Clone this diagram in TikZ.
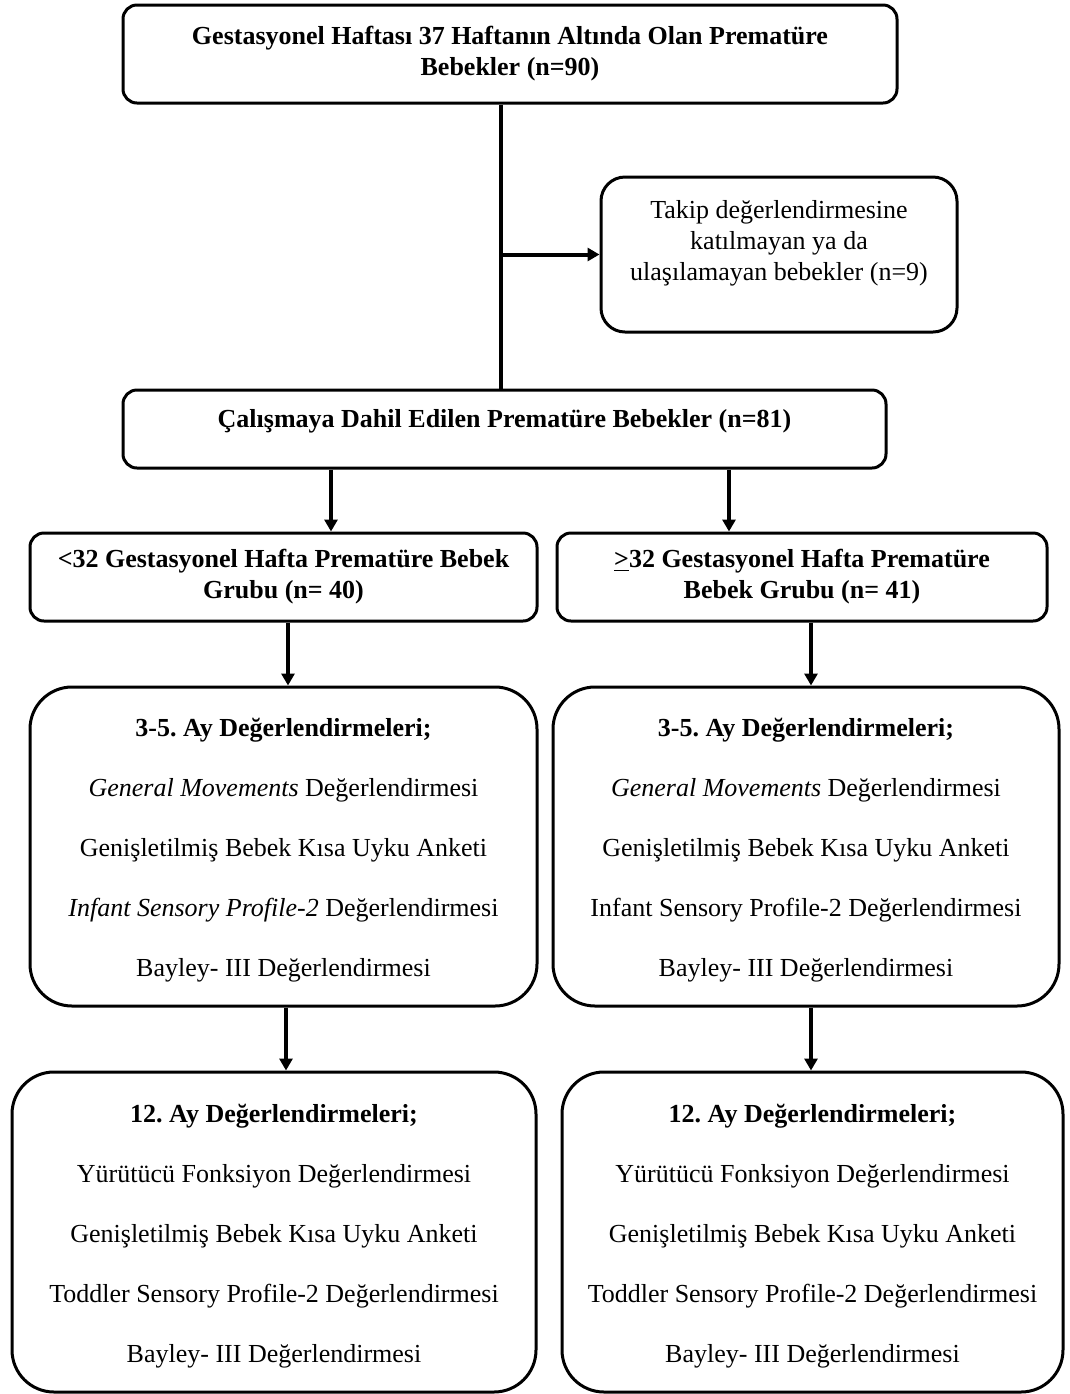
\documentclass[tikz,border=0pt]{standalone}
\usepackage{fontspec}
\setmainfont{Liberation Serif}
\usepackage{tikz}
\usetikzlibrary{arrows.meta}
\tikzset{ flow_box/.style = {rectangle, rounded corners=7pt, draw, line width=1.5pt, align=center, inner sep=0pt, font=\fontsize{13pt}{15.5pt}\selectfont\frenchspacing} }
\tikzset{ exam_box/.style = {flow_box, rounded corners=21pt, font=\fontsize{13pt}{30pt}\selectfont\frenchspacing} }
\tikzset{ flow_line/.style = {line width=2pt} }
\tikzset{ flow_arrow/.style = {line width=2pt, -{Triangle[length=6pt,width=6.5pt]}} }

\begin{document}
\begin{tikzpicture}[x=0.5pt, y=-0.5pt]
    \useasboundingbox (0,0) rectangle (1070,1394);
    \node[flow_box, minimum width=387pt, minimum height=49pt] (cohort) at (510,54)
        {\bfseries Gestasyonel Haftası 37 Haftanın Altında Olan Prematüre\\\bfseries Bebekler (n=90)\rule[-3.5pt]{0pt}{0pt}};
    \node[flow_box, rounded corners=12pt, minimum width=178pt, minimum height=77.5pt] (lost) at (779,254.5)
        {Takip değerlendirmesine\\katılmayan ya da\\ulaşılamayan bebekler (n=9)\rule[-14pt]{0pt}{0pt}};
    \node[flow_box, minimum width=381.5pt, minimum height=39pt] (included) at (504.5,429)
        {\bfseries Çalışmaya Dahil Edilen Prematüre Bebekler (n=81)\rule[-11pt]{0pt}{0pt}};
    \node[flow_box, minimum width=253.5pt, minimum height=44pt] (group_lo) at (283.5,577)
        {\bfseries <32 Gestasyonel Hafta Prematüre Bebek\\\bfseries Grubu (n= 40)};
    \node[flow_box, minimum width=245pt, minimum height=44pt] (group_hi) at (802,577)
        {\bfseries \underline{>}32 Gestasyonel Hafta Prematüre\\\bfseries Bebek Grubu (n= 41)};
    \node[exam_box, minimum width=253.5pt, minimum height=159.5pt] (early_lo) at (283.5,846.5)
        {\rule{0pt}{13pt}\textbf{3-5. Ay Değerlendirmeleri;}\\\textit{General Movements} Değerlendirmesi\\Genişletilmiş Bebek Kısa Uyku Anketi\\\textit{Infant Sensory Profile-2} Değerlendirmesi\\Bayley- III Değerlendirmesi};
    \node[exam_box, minimum width=253pt, minimum height=159.5pt] (early_hi) at (806,846.5)
        {\rule{0pt}{13pt}\textbf{3-5. Ay Değerlendirmeleri;}\\\textit{General Movements} Değerlendirmesi\\Genişletilmiş Bebek Kısa Uyku Anketi\\Infant Sensory Profile-2 Değerlendirmesi\\Bayley- III Değerlendirmesi};
    \node[exam_box, minimum width=262pt, minimum height=160pt] (late_lo) at (274,1232)
        {\rule{0pt}{13pt}\textbf{12. Ay Değerlendirmeleri;}\\Yürütücü Fonksiyon Değerlendirmesi\\Genişletilmiş Bebek Kısa Uyku Anketi\\Toddler Sensory Profile-2 Değerlendirmesi\\Bayley- III Değerlendirmesi};
    \node[exam_box, minimum width=250.5pt, minimum height=160pt] (late_hi) at (812.5,1232)
        {\rule{0pt}{13pt}\textbf{12. Ay Değerlendirmeleri;}\\Yürütücü Fonksiyon Değerlendirmesi\\Genişletilmiş Bebek Kısa Uyku Anketi\\Toddler Sensory Profile-2 Değerlendirmesi\\Bayley- III Değerlendirmesi};
    \coordinate (spine) at (501,254.5);
    \coordinate (split_lo) at (331,0);
    \coordinate (split_hi) at (729,0);
    \coordinate (col_lo) at (288,0);
    \coordinate (col_hi) at (811,0);
    \coordinate (col_lo2) at (286,0);
    \draw[flow_line] (spine |- cohort.south) -- (spine |- included.north);
    \draw[flow_arrow] (spine) -- (lost.west);
    \draw[flow_arrow] (split_lo |- included.south) -- (split_lo |- group_lo.north);
    \draw[flow_arrow] (split_hi |- included.south) -- (split_hi |- group_hi.north);
    \draw[flow_arrow] (col_lo |- group_lo.south) -- (col_lo |- early_lo.north);
    \draw[flow_arrow] (col_hi |- group_hi.south) -- (col_hi |- early_hi.north);
    \draw[flow_arrow] (col_lo2 |- early_lo.south) -- (col_lo2 |- late_lo.north);
    \draw[flow_arrow] (col_hi |- early_hi.south) -- (col_hi |- late_hi.north);
\end{tikzpicture}
\end{document}
